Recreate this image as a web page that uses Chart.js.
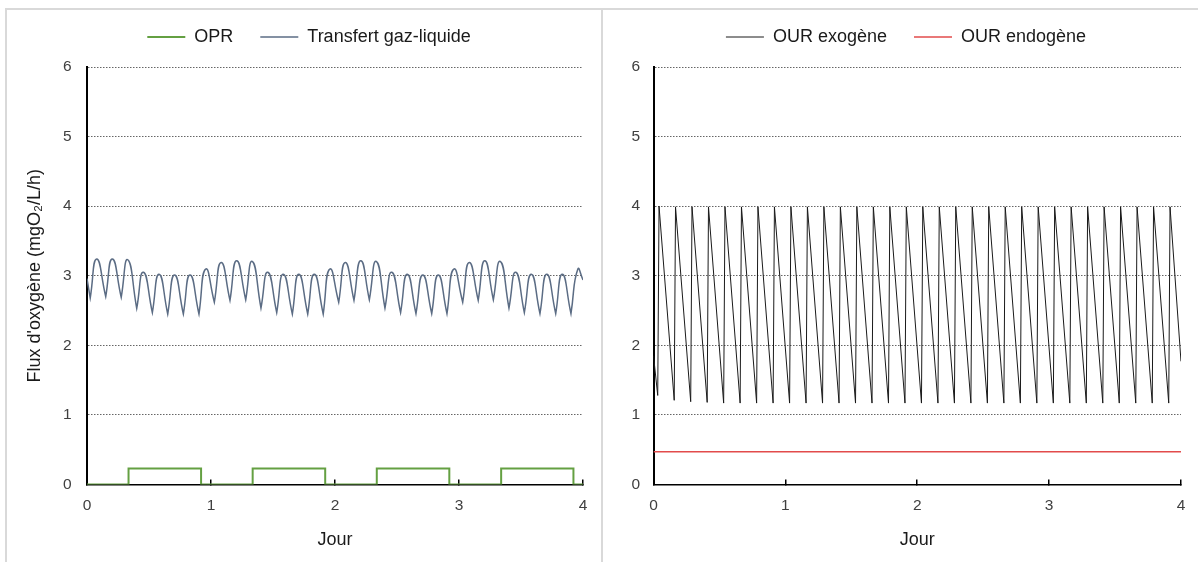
<!DOCTYPE html>
<html lang="fr">
<head>
<meta charset="utf-8">
<title>Flux d'oxygène</title>
<script src="https://cdn.jsdelivr.net/npm/chart.js@4.4.1/dist/chart.umd.min.js"></script>
<style>
  html, body { margin: 0; padding: 0; background: #fff; }
  body { width: 1198px; height: 562px; position: relative; overflow: hidden; }
  .panel { position: absolute; top: 8px; height: 560px; box-sizing: border-box; border: 2px solid #d9d9d9; }
  #panelLeft { left: 5px; width: 598px; }
  #panelRight { left: 601px; width: 600px; }
  canvas { position: absolute; }
  #leftChart { left: 7px; top: 1px; }
  #rightChart { left: 604px; top: 1px; }
</style>
</head>
<body>
<div class="panel" id="panelLeft"></div>
<div class="panel" id="panelRight"></div>
<canvas id="leftChart" width="597" height="559"></canvas>
<canvas id="rightChart" width="598" height="559"></canvas>

<script>
// axes
const xMin = 0, xMax = 4;
const yMin = 0, yMax = 6;
const xTitle = 'Jour';
const yTitle = "Flux d'oxygène (mgO₂/L/h)";

// OPR (marches)
const oprTimes  = [0, 0.335, 0.92, 1.336, 1.921, 2.337, 2.922, 3.34, 3.923, 4];
const oprValues = [0, 0.23, 0, 0.23, 0, 0.23, 0, 0.23, 0, 0];

// Transfert gaz-liquide : creux (pointes) et sommets des arches
const transfertEdgeTimes  = [0, 4];
const transfertEdgeValues = [2.96, 2.94];
const transfertCuspTimes = [0.026, 0.151, 0.276, 0.401, 0.527, 0.651, 0.777, 0.903,
                            1.027, 1.153, 1.28, 1.403, 1.53, 1.656, 1.78, 1.905,
                            2.03, 2.153, 2.277, 2.403, 2.529, 2.653, 2.78, 2.903,
                            3.03, 3.155, 3.277, 3.403, 3.527, 3.653, 3.78, 3.903];
const transfertCuspValues = [2.68, 2.70, 2.69, 2.53, 2.47, 2.45, 2.45, 2.45,
                             2.62, 2.645, 2.655, 2.535, 2.47, 2.45, 2.45, 2.45,
                             2.62, 2.645, 2.655, 2.535, 2.47, 2.455, 2.455, 2.455,
                             2.62, 2.645, 2.655, 2.535, 2.47, 2.455, 2.455, 2.455];
const transfertPeakTimes = [0.078, 0.204, 0.329, 0.455, 0.581, 0.706, 0.831, 0.957,
                            1.082, 1.207, 1.333, 1.458, 1.583, 1.708, 1.833, 1.958,
                            2.083, 2.208, 2.333, 2.458, 2.583, 2.708, 2.833, 2.958,
                            3.083, 3.208, 3.333, 3.458, 3.583, 3.708, 3.833, 3.958];
const transfertPeakValues = [3.24, 3.24, 3.23, 3.05, 3.02, 3.01, 3.01, 3.095,
                             3.19, 3.215, 3.205, 3.05, 3.02, 3.02, 3.02, 3.095,
                             3.19, 3.215, 3.205, 3.05, 3.02, 3.01, 3.01, 3.095,
                             3.19, 3.215, 3.205, 3.05, 3.02, 3.02, 3.02, 3.095];

// OUR exogène (dents de scie)
const ourExoTimes = [0, 0.032, 0.042, 0.157, 0.167, 0.282, 0.292, 0.407, 0.417, 0.532, 0.542,
                     0.657, 0.667, 0.782, 0.792, 0.907, 0.917, 1.032, 1.042, 1.157, 1.167,
                     1.282, 1.292, 1.407, 1.417, 1.532, 1.542, 1.657, 1.667, 1.782, 1.792,
                     1.907, 1.917, 2.032, 2.042, 2.157, 2.167, 2.282, 2.292, 2.407, 2.417,
                     2.532, 2.542, 2.657, 2.667, 2.782, 2.792, 2.907, 2.917, 3.032, 3.042,
                     3.157, 3.167, 3.282, 3.292, 3.407, 3.417, 3.532, 3.542, 3.657, 3.667,
                     3.782, 3.792, 3.907, 3.917, 4];
const ourExoValues = [1.85, 1.28, 4.0, 1.21, 3.99, 1.19, 3.99, 1.18, 3.99, 1.17, 3.99,
                      1.17, 3.99, 1.17, 3.99, 1.17, 3.99, 1.17, 3.99, 1.17, 3.99,
                      1.17, 3.99, 1.17, 3.99, 1.17, 3.99, 1.17, 3.99, 1.17, 3.99,
                      1.17, 3.99, 1.17, 3.99, 1.17, 3.99, 1.17, 3.99, 1.17, 3.99,
                      1.17, 3.99, 1.17, 3.99, 1.17, 3.99, 1.17, 3.99, 1.17, 3.99,
                      1.17, 3.99, 1.17, 3.99, 1.17, 3.99, 1.17, 3.99, 1.17, 3.99,
                      1.17, 3.99, 1.17, 3.99, 1.77];

// OUR endogène
const ourEndoTimes  = [0, 4];
const ourEndoValues = [0.47, 0.47];

const family = "'Liberation Sans', Arial, sans-serif";
const textColor = '#1a1a1a';
const tickColor = '#404040';

function toPoints(times, values) {
  return times.map((t, i) => ({ x: t, y: values[i] }));
}

// chaque creux est doublé pour garder une pointe nette avec la tension
function transfertPoints() {
  const pts = [{ x: transfertEdgeTimes[0], y: transfertEdgeValues[0] }];
  transfertCuspTimes.forEach((t, i) => {
    pts.push({ x: t, y: transfertCuspValues[i] });
    pts.push({ x: t, y: transfertCuspValues[i] });
    pts.push({ x: transfertPeakTimes[i], y: transfertPeakValues[i] });
  });
  pts.push({ x: transfertEdgeTimes[1], y: transfertEdgeValues[1] });
  return pts;
}

// hauteur fixe de la légende + centrage sur le panneau
function legendLayout(height, centerX) {
  return {
    id: 'legendLayout',
    beforeInit(chart) {
      const legend = chart.legend;
      const fit = legend.fit;
      legend.fit = function () { fit.call(this); this.height = height; };
    },
    afterLayout(chart) {
      const legend = chart.legend;
      const w = legend.right - legend.left;
      legend.left = centerX - w / 2;
      legend.right = centerX + w / 2;
    }
  };
}

function xScale() {
  return {
    type: 'linear', min: xMin, max: xMax,
    afterFit(s) { s.height = 66; },
    ticks: { stepSize: 1, padding: 16.7, color: tickColor, font: { family, size: 15.5 } },
    grid: { drawOnChartArea: false, drawTicks: true, tickLength: -5, color: '#000', lineWidth: 1.5 },
    border: { display: true, color: '#000', width: 1.5 },
    title: { display: true, text: xTitle, color: textColor, font: { family, size: 18 }, padding: { top: 0, bottom: 0 } }
  };
}

function yScale(width, labelPad, withTitle) {
  return {
    type: 'linear', min: yMin, max: yMax,
    afterFit(s) { s.width = width; },
    ticks: { stepSize: 1, padding: labelPad, color: tickColor, font: { family, size: 15.5 } },
    grid: {
      drawTicks: false,
      color: ctx => (ctx.tick && ctx.tick.value === 0) ? 'rgba(0,0,0,0)' : '#666',
      lineWidth: 1
    },
    border: { display: true, color: '#000', width: 2, dash: [1.5, 1.5] },
    title: withTitle
      ? { display: true, text: yTitle, color: textColor, font: { family, size: 18 }, padding: { top: 17, bottom: 0 } }
      : { display: false }
  };
}

function legendOptions() {
  return {
    position: 'top',
    labels: {
      usePointStyle: true,
      pointStyle: 'line',
      pointStyleWidth: 38,
      padding: 27,
      color: textColor,
      font: { family, size: 18 }
    }
  };
}

new Chart(document.getElementById('leftChart'), {
  type: 'line',
  data: {
    datasets: [
      {
        label: 'OPR',
        data: toPoints(oprTimes, oprValues),
        borderColor: '#64a042',
        backgroundColor: '#64a042',
        borderWidth: 2,
        stepped: true,
        pointRadius: 0,
        fill: false
      },
      {
        label: 'Transfert gaz-liquide',
        data: transfertPoints(),
        borderColor: '#5b6c84',
        backgroundColor: '#5b6c84',
        borderWidth: 1.5,
        tension: 0.55,
        pointRadius: 0,
        fill: false
      }
    ]
  },
  options: {
    responsive: false,
    animation: false,
    layout: { padding: { left: 0, right: 21, top: 0, bottom: 9.5 } },
    plugins: { legend: legendOptions(), tooltip: { enabled: false } },
    scales: { x: xScale(), y: yScale(80, 15.5, true) }
  },
  plugins: [legendLayout(66, 302)]
});

new Chart(document.getElementById('rightChart'), {
  type: 'line',
  data: {
    datasets: [
      {
        label: 'OUR exogène',
        data: toPoints(ourExoTimes, ourExoValues),
        borderColor: '#1a1a1a',
        backgroundColor: '#1a1a1a',
        borderWidth: 1,
        pointRadius: 0,
        fill: false
      },
      {
        label: 'OUR endogène',
        data: toPoints(ourEndoTimes, ourEndoValues),
        borderColor: '#e24b4b',
        backgroundColor: '#e24b4b',
        borderWidth: 1.5,
        pointRadius: 0,
        fill: false
      }
    ]
  },
  options: {
    responsive: false,
    animation: false,
    layout: { padding: { left: 0, right: 21, top: 0, bottom: 9.5 } },
    plugins: { legend: legendOptions(), tooltip: { enabled: false } },
    scales: { x: xScale(), y: yScale(49.5, 13.5, false) }
  },
  plugins: [legendLayout(66, 302)]
});
</script>
</body>
</html>
